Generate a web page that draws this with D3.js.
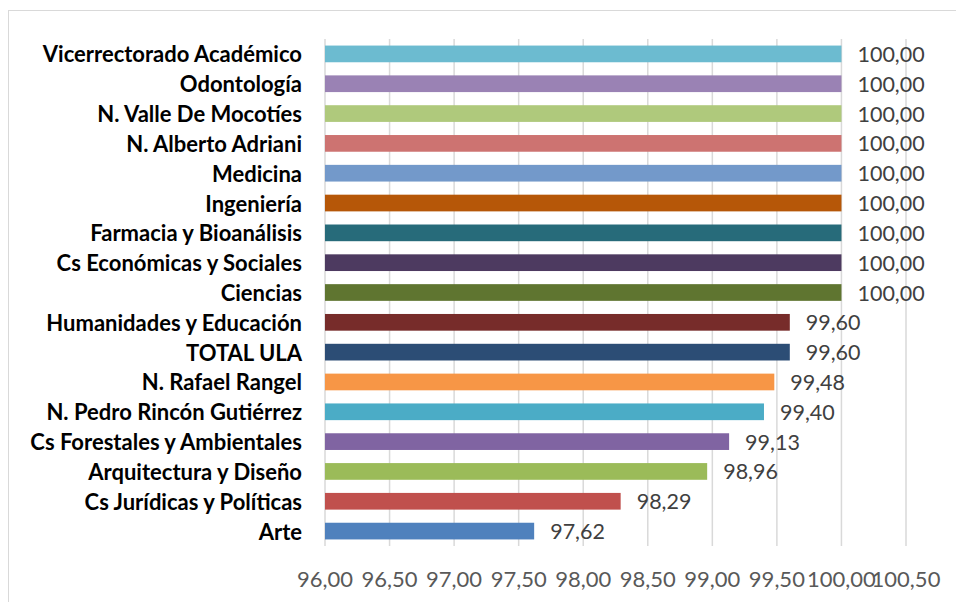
<!DOCTYPE html>
<html>
<head>
<meta charset="utf-8">
<script src="https://cdn.jsdelivr.net/npm/d3@7"></script>
<style>
  body { margin: 0; background: #fff; }
  .cat_label { font-family: Lato, "Liberation Sans", sans-serif; font-weight: bold; font-size: 22px; fill: #000; }
  .val_label { font-family: Lato, "Liberation Sans", sans-serif; font-size: 21.5px; fill: #404040; }
  .tick_label { font-family: Lato, "Liberation Sans", sans-serif; font-size: 22px; fill: #595959; }
</style>
</head>
<body>
<div id="chart"></div>
<script>
// categories from top to bottom
var categories = ["Vicerrectorado Académico", "Odontología", "N. Valle De Mocotíes", "N. Alberto Adriani",
  "Medicina", "Ingeniería", "Farmacia y Bioanálisis", "Cs Económicas y Sociales", "Ciencias",
  "Humanidades y Educación", "TOTAL ULA", "N. Rafael Rangel", "N. Pedro Rincón Gutiérrez",
  "Cs Forestales y Ambientales", "Arquitectura y Diseño", "Cs Jurídicas y Políticas", "Arte"];
var values = [100, 100, 100, 100, 100, 100, 100, 100, 100, 99.60, 99.60, 99.48, 99.40, 99.13, 98.96, 98.29, 97.62];
var colors = ["#6cbbd0", "#9a82b4", "#afc97c", "#cd7371", "#7399ca", "#b65708", "#276b7a", "#4d3a60", "#5f7530",
  "#772c2a", "#2c4d75", "#f79646", "#4bacc6", "#8064a2", "#9bbb59", "#c0504d", "#4f81bd"];
var ticks = [96, 96.5, 97, 97.5, 98, 98.5, 99, 99.5, 100, 100.5];

var width = 956, height = 602;
var fmt = function(v) { return v.toFixed(2).replace(".", ","); };

var svg = d3.select("#chart").append("svg")
  .attr("width", width)
  .attr("height", height);

// outer border
svg.append("rect")
  .attr("x", 8.5).attr("y", 10.5)
  .attr("width", 960).attr("height", 610)
  .attr("fill", "none")
  .attr("stroke", "#d9d9d9");

var x = d3.scaleLinear().domain([96, 100.5]).range([325, 906]);
var y = d3.scaleBand().domain(categories).range([39, 546]).paddingInner(0.44).paddingOuter(0.22);

// gridlines
svg.append("g").selectAll("line")
  .data(ticks)
  .enter().append("line")
  .attr("x1", function(d) { return x(d); })
  .attr("x2", function(d) { return x(d); })
  .attr("y1", 39).attr("y2", 546)
  .attr("stroke", "#d9d9d9")
  .attr("stroke-width", 1.5);

// bars
svg.append("g").selectAll("rect")
  .data(categories)
  .enter().append("rect")
  .attr("x", x(96))
  .attr("y", function(d) { return y(d); })
  .attr("width", function(d, i) { return x(values[i]) - x(96); })
  .attr("height", y.bandwidth())
  .attr("fill", function(d, i) { return colors[i]; });

// value labels
svg.append("g").selectAll("text")
  .data(categories)
  .enter().append("text")
  .attr("class", "val_label")
  .attr("x", function(d, i) { return x(values[i]) + 16; })
  .attr("y", function(d) { return y(d) + y.bandwidth() / 2; })
  .attr("dominant-baseline", "central")
  .text(function(d, i) { return fmt(values[i]); });

// category labels
svg.append("g").selectAll("text")
  .data(categories)
  .enter().append("text")
  .attr("class", "cat_label")
  .attr("x", 302)
  .attr("y", function(d) { return y(d) + y.bandwidth() / 2; })
  .attr("text-anchor", "end")
  .attr("dominant-baseline", "central")
  .text(function(d) { return d; });

// x axis tick labels
svg.append("g").selectAll("text")
  .data(ticks)
  .enter().append("text")
  .attr("class", "tick_label")
  .attr("x", function(d) { return x(d); })
  .attr("y", 578)
  .attr("text-anchor", "middle")
  .attr("dominant-baseline", "central")
  .text(function(d) { return fmt(d); });
</script>
</body>
</html>
